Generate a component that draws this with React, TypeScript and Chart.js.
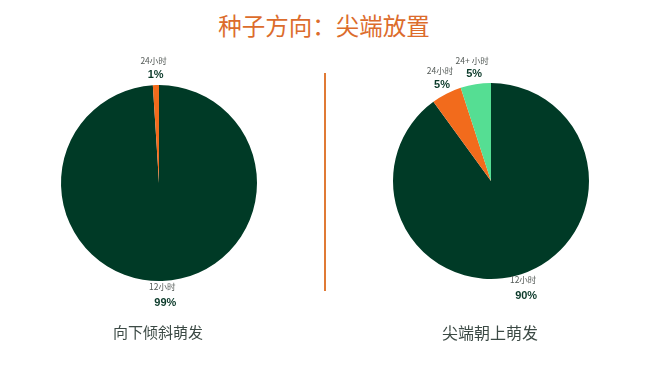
import React, { useEffect, useRef } from "react";
import { Chart, registerables } from "chart.js";

Chart.register(...registerables);

const titleText = "种子方向：尖端放置";
const leftCaption = "向下倾斜萌发";
const rightCaption = "尖端朝上萌发";

const leftLabels = ["12小时", "24小时"];
const leftValues = [99, 1];
const leftColors = ["#003A26", "#F26B1C"];

const rightLabels = ["12小时", "24小时", "24+ 小时"];
const rightValues = [90, 5, 5];
const rightColors = ["#003A26", "#F26B1C", "#55DE93"];

const CJK = '"Noto Sans CJK SC", "Noto Sans", sans-serif';

const labelPlugin = {
  id: "outerLabels",
  afterDatasetsDraw(chart: any) {
    const ctx = chart.ctx;
    const meta = chart.getDatasetMeta(0);
    const data = chart.data.datasets[0].data as number[];
    const labels = chart.data.labels as string[];
    ctx.save();
    ctx.textAlign = "center";
    ctx.textBaseline = "middle";
    meta.data.forEach((arc: any, i: number) => {
      const p = arc.getProps(["x", "y", "startAngle", "endAngle", "outerRadius"], true);
      const mid = (p.startAngle + p.endAngle) / 2;
      const c = Math.cos(mid);
      const s = Math.sin(mid);
      const name = labels[i];
      const pct = data[i] + "%";
      let nx, ny, px, py;
      if (s < 0) {
        const d = p.outerRadius + 10;
        px = p.x + c * d;
        py = p.y + s * d;
        nx = px - 2;
        ny = py - 14;
      } else {
        const d = p.outerRadius + 6;
        nx = p.x + c * d;
        ny = p.y + s * d;
        px = nx + 3;
        py = ny + 16;
      }
      ctx.fillStyle = "#555b58";
      ctx.font = '8.5px ' + CJK;
      ctx.fillText(name, nx, ny);
      ctx.fillStyle = "#0b3a2a";
      ctx.font = 'bold 11px "Liberation Sans", Arial, sans-serif';
      ctx.fillText(pct, px, py);
    });
    ctx.restore();
  },
};

function PieChart(props: { labels: string[]; values: number[]; colors: string[]; left: number; top: number }) {
  const ref = useRef<HTMLCanvasElement | null>(null);
  useEffect(() => {
    if (!ref.current) return;
    const chart = new Chart(ref.current, {
      type: "pie",
      data: {
        labels: props.labels,
        datasets: [
          {
            data: props.values,
            backgroundColor: props.colors,
            borderWidth: 0,
            hoverOffset: 0,
          },
        ],
      },
      options: {
        responsive: false,
        animation: false,
        devicePixelRatio: 1,
        layout: { padding: 52 },
        plugins: {
          legend: { display: false },
          tooltip: { enabled: false },
        },
        events: [],
      },
      plugins: [labelPlugin],
    });
    return () => chart.destroy();
  }, []);
  return (
    <canvas
      ref={ref}
      width={300}
      height={300}
      style={{ position: "absolute", left: props.left, top: props.top, width: 300, height: 300 }}
    />
  );
}

export default function App() {
  return (
    <div
      style={{
        position: "fixed",
        left: 0,
        top: 0,
        width: 650,
        height: 365,
        background: "#ffffff",
        overflow: "hidden",
        fontFamily: CJK,
      }}
    >
      <div
        style={{
          position: "absolute",
          left: 0,
          width: 650,
          top: 9,
          lineHeight: "32px",
          fontSize: 23.5,
          textAlign: "center",
          color: "#DC6C2C",
          paddingLeft: 0,
        }}
      >
        <span style={{ position: "relative", left: -1 }}>{titleText}</span>
      </div>
      <div
        style={{
          position: "absolute",
          left: 324,
          top: 73,
          width: 2,
          height: 218,
          background: "#E07A35",
        }}
      />
      <PieChart labels={leftLabels} values={leftValues} colors={leftColors} left={9} top={33} />
      <PieChart labels={rightLabels} values={rightValues} colors={rightColors} left={341} top={31} />
      <div
        style={{
          position: "absolute",
          left: 58,
          width: 200,
          top: 320,
          lineHeight: "24px",
          fontSize: 15,
          textAlign: "center",
          color: "#3C4A45",
        }}
      >
        {leftCaption}
      </div>
      <div
        style={{
          position: "absolute",
          left: 390,
          width: 200,
          top: 320,
          lineHeight: "24px",
          fontSize: 16,
          textAlign: "center",
          color: "#3C4A45",
        }}
      >
        {rightCaption}
      </div>
    </div>
  );
}
